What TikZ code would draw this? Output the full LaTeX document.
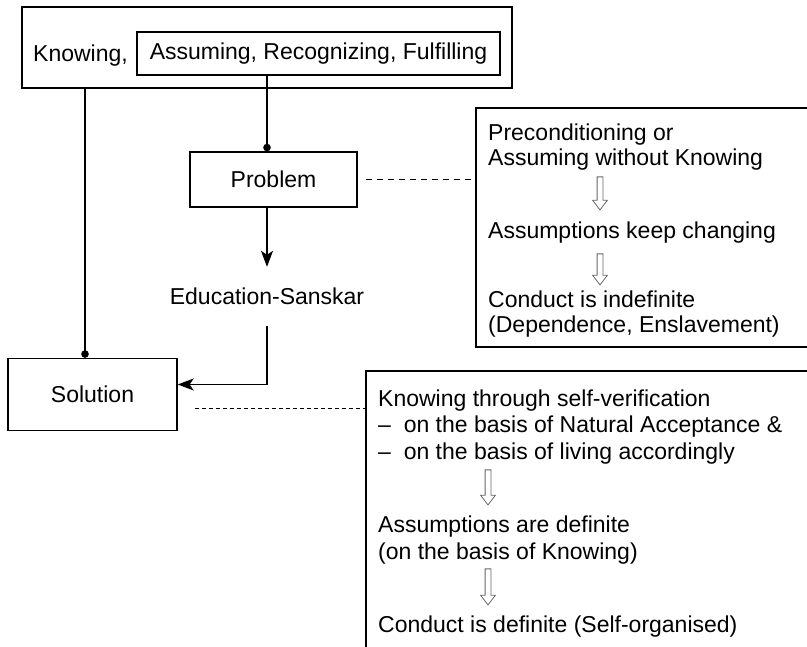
\documentclass[tikz,border=0pt]{standalone}
\usepackage{fontspec}
\setmainfont{Liberation Sans}
\usetikzlibrary{arrows.meta,positioning,shapes.arrows}

\begin{document}
\begin{tikzpicture}[x=1pt,y=-1pt,font=\fontsize{23}{25}\selectfont,
  box/.style={draw,line width=1.4pt,inner sep=0pt},
  txt/.style={inner sep=0pt,align=left,anchor=north west},
  wide/.style={font=\fontsize{23}{26.5}\selectfont},
  hollow/.style={single arrow,draw=black!60,line width=0.8pt,shape border rotate=270,
    inner sep=2.5pt,single arrow head extend=4.5pt,single arrow tip angle=75},
  link/.style={line width=1.4pt},
  dotarrow/.style={link,-{Circle[length=7.5pt]}},
  headarrow/.style={link,-{Stealth[length=16pt,width=12pt,inset=4pt]}}]
\clip (0,0) rectangle (807,647);
\node[box,minimum width=490pt,minimum height=81pt] (outer) at (267,47.5) {};
\node[inner sep=0pt,anchor=base west] (know) at (33,62) {Knowing,};
\node[box,minimum width=363pt,minimum height=43pt] (assume) at (318.5,53.5) {Assuming, Recognizing, Fulfilling};
\node[box,minimum width=167pt,minimum height=55pt] (problem) at (273.5,179.5) {Problem};
\node[inner sep=0pt,minimum height=59pt] (edu) at (267,296.5) {Education-Sanskar};
\node[box,minimum width=169pt,minimum height=72pt] (sol) at (92.5,394.5) {Solution};
\coordinate (c_1) at (85,0);
\coordinate (c_2) at (267,0);
% the two boxes on the right run off the page
\node[box,minimum width=400pt,minimum height=239pt] (cond_1) at (676,227.5) {};
\node[txt] (pre_1) at (488,124) {Preconditioning or\\Assuming without Knowing};
\node[hollow,minimum height=33pt] (ar_1) at (600,191.5) {};
\node[txt] (pre_2) at (488,221.5) {Assumptions keep changing};
\node[hollow,minimum height=31pt] (ar_2) at (600,267.5) {};
\node[txt] (pre_3) at (488,291) {Conduct is indefinite\\(Dependence, Enslavement)};
\node[box,minimum width=500pt,minimum height=320pt] (cond_2) at (616,531) {};
\node[txt,wide] (def_1) at (378,389.5) {Knowing through self-verification\\
  --~~on the basis of Natural Acceptance \&\\--~~on the basis of living accordingly};
\node[hollow,minimum height=35pt] (ar_3) at (488,485.5) {};
\node[txt,wide] (def_2) at (378,516) {Assumptions are definite\\(on the basis of Knowing)};
\node[hollow,minimum height=36pt] (ar_4) at (488,585) {};
\node[txt] (def_3) at (378,616) {Conduct is definite (Self-organised)};
\path
(c_1 |- outer.south) edge[dotarrow] (c_1 |- sol.north)
(c_2 |- assume.south) edge[dotarrow] (c_2 |- problem.north)
(c_2 |- problem.south) edge[headarrow] (edu.north)
(problem.east) edge[link,dash pattern=on 6pt off 5pt,shorten <=8pt,shorten >=4pt] (problem.east -| cond_1.west)
([yshift=-14pt]sol.east) edge[link,dash pattern=on 4pt off 3pt,shorten <=17pt] ([yshift=-14pt]sol.east -| cond_2.west)
;
\draw[headarrow] (edu.south) |- ([yshift=10pt]sol.east);
\end{tikzpicture}
\end{document}
